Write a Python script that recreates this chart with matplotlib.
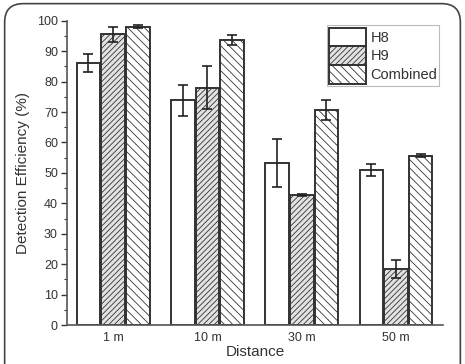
import matplotlib
matplotlib.use("Agg")
import matplotlib.pyplot as plt
import numpy as np
from matplotlib.patches import FancyBboxPatch
from matplotlib.ticker import MultipleLocator

plt.rcParams['font.family'] = ['Liberation Sans', 'DejaVu Sans']
plt.rcParams['hatch.linewidth'] = 0.6

categories = ["1 m", "10 m", "30 m", "50 m"]
h8 = [86.0, 73.8, 53.3, 51.0]
h8_err = [3.0, 5.0, 8.0, 2.0]
h9 = [95.5, 78.0, 42.7, 18.3]
h9_err = [2.5, 7.0, 0.3, 3.0]
comb = [98.0, 93.7, 70.7, 55.7]
comb_err = [0.5, 1.7, 3.3, 0.6]
series_names = ["H8", "H9", "Combined"]

fig = plt.figure(figsize=(4.65, 3.64), dpi=100)
ax = fig.add_axes([0.144, 0.107, 0.809, 0.836])

x = np.arange(1, len(categories) + 1)
w = 0.25
off = 0.262
ekw = dict(ecolor='#222222', elinewidth=1.2, capsize=3.5, capthick=1.2)
ax.bar(x - off, h8, w, yerr=h8_err, color='white', edgecolor='#333333',
       linewidth=1.4, label=series_names[0], error_kw=ekw)
ax.bar(x, h9, w, yerr=h9_err, color='#e2e2e2', edgecolor='#333333',
       linewidth=1.4, hatch='//////', label=series_names[1], error_kw=ekw)
ax.bar(x + off, comb, w, yerr=comb_err, color='white', edgecolor='#333333',
       linewidth=1.4, hatch='\\\\\\\\', label=series_names[2], error_kw=ekw)

ax.set_xlim(0.51, 4.5)
ax.set_ylim(0, 100)
ax.set_xticks(x)
ax.set_xticklabels(categories, fontsize=9)
ax.yaxis.set_major_locator(MultipleLocator(10))
ax.yaxis.set_minor_locator(MultipleLocator(5))
ax.tick_params(axis='y', labelsize=9, direction='out', length=4, width=1, colors='#333333', labelcolor='#333333', pad=2.5)
ax.tick_params(axis='y', which='minor', length=2.5, width=0.8, colors='#333333')
ax.tick_params(axis='x', length=0, labelsize=9, labelcolor='#333333', pad=5)
for s in ['top', 'right']:
    ax.spines[s].set_visible(False)
for s in ['left', 'bottom']:
    ax.spines[s].set_color('#555555')
    ax.spines[s].set_linewidth(1.2)

ax.set_ylabel("Detection Efficiency (%)", fontsize=11, color='#333333', labelpad=5)
ax.set_xlabel("Distance", fontsize=11, color='#333333', labelpad=1)

leg = ax.legend(loc='upper right', bbox_to_anchor=(0.99, 0.985), fontsize=10.5,
                frameon=True, fancybox=False, edgecolor='#aaaaaa',
                handlelength=2.5, handleheight=1.6, handletextpad=0.3,
                labelspacing=0.0, borderpad=0.15, borderaxespad=0.0)
leg.get_frame().set_linewidth(0.8)
for t in leg.get_texts():
    t.set_color('#333333')

border = FancyBboxPatch((0.01, -0.05), 0.98, 1.04, boxstyle="round,pad=0,rounding_size=0.04",
                        transform=fig.transFigure, fill=False, edgecolor='#444444',
                        linewidth=1.2, mutation_aspect=465/364)
fig.patches.append(border)

fig.savefig("out.png", dpi=100)
